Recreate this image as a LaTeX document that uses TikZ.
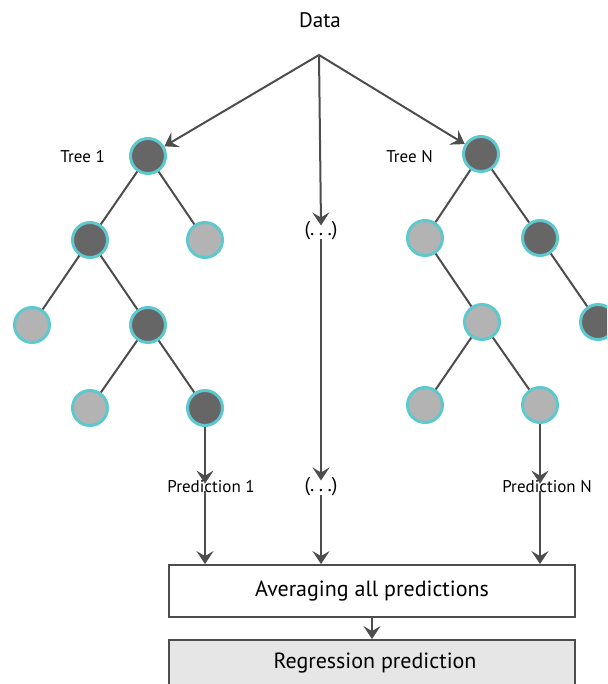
\documentclass[tikz,border=0pt]{standalone}
\usepackage{fontspec}
\setmainfont{PT Sans}
\usetikzlibrary{arrows.meta}
\definecolor{edgegray}{HTML}{4D4D4D}
\definecolor{darkleaf}{HTML}{666666}
\definecolor{lightleaf}{HTML}{B3B3B3}
\definecolor{ringcyan}{HTML}{5EC8CF}
\definecolor{resultfill}{HTML}{E6E6E6}
\newcommand{\spaceddots}{(.\hspace{0.22em}.\hspace{0.22em}.)}
\begin{document}
\begin{tikzpicture}[x=1pt,y=-1pt,
  treenode/.style={circle,draw=ringcyan,line width=3pt,minimum size=35pt,inner sep=0pt},
  dark/.style={treenode,fill=darkleaf},
  light/.style={treenode,fill=lightleaf},
  link/.style={draw=edgegray,line width=2pt},
  flow/.style={draw=edgegray,line width=2pt,-{Stealth[length=13pt,width=17pt,inset=5pt]}},
  label/.style={font=\fontsize{17}{20}\selectfont,inner sep=2pt},
  stagebox/.style={draw=edgegray,line width=1.8pt,minimum width=406pt,minimum height=52pt,
    font=\fontsize{22}{26}\selectfont,inner sep=0pt}
]
\useasboundingbox (0,0) rectangle (607,684);
\clip (0,0) rectangle (607,684);

% input data and fan-out point
\node[font=\fontsize{21}{24}\selectfont] (data) at (320,20) {Data};
\coordinate (apex) at (319,55);

% tree 1
\node[dark]  (a0) at (148,156) {};
\node[label,anchor=east] (t1) at (107,157) {Tree 1};
\node[dark]  (a1) at (90,240) {};
\node[light] (a2) at (205,240) {};
\node[light] (a3) at (32,325) {};
\node[dark]  (a4) at (148,325) {};
\node[light] (a5) at (90,408) {};
\node[dark]  (a6) at (205,408) {};
\draw[link] (a0) -- (a1);
\draw[link] (a0) -- (a2);
\draw[link] (a1) -- (a3);
\draw[link] (a1) -- (a4);
\draw[link] (a4) -- (a5);
\draw[link] (a4) -- (a6);

% tree N
\node[dark]  (b0) at (481,154) {};
\node[label,anchor=east] (tn) at (435,157) {Tree N};
\node[light] (b1) at (425,238) {};
\node[dark]  (b2) at (540,238) {};
\node[light] (b3) at (482,322) {};
\node[dark]  (b4) at (598,322) {};
\node[light] (b5) at (425,405) {};
\node[light] (b6) at (540,405) {};
\draw[link] (b0) -- (b1);
\draw[link] (b0) -- (b2);
\draw[link] (b1) -- (b3);
\draw[link] (b2) -- (b4);
\draw[link] (b3) -- (b5);
\draw[link] (b3) -- (b6);

% middle column
\node[label,font=\fontsize{20}{23}\selectfont] (m1) at (321,231) {\spaceddots};
\node[label,font=\fontsize{20}{23}\selectfont] (m2) at (321,487) {\spaceddots};

% predictions
\node[label] (p1) at (211,487) {Prediction 1};
\node[label] (pn) at (547,487) {Prediction N};

% aggregation stages
\node[stagebox,fill=white] (avg) at (372,591) {Averaging all predictions};
\node[stagebox,fill=resultfill,minimum height=56pt] (reg) at (372,668) {};
\node[font=\fontsize{22}{26}\selectfont] (regtxt) at (375,663) {Regression prediction};

% data flow
\draw[flow] (apex) -- (a0);
\draw[flow] (apex) -- (b0);
\draw[flow] (apex) -- ([yshift=-6pt]m1.north);
\draw[flow] ([yshift=4pt]m1.south) -- ([yshift=-5pt]m2.north);
\draw[flow] (a6) -- ([yshift=-5pt]a6 |- p1.north);
\draw[flow] (b6) -- ([yshift=-5pt]b6 |- pn.north);
\draw[flow] ([yshift=4pt]a6 |- p1.south) -- (a6 |- avg.north);
\draw[flow] ([yshift=4pt]m2.south) -- (m2 |- avg.north);
\draw[flow] ([yshift=4pt]b6 |- pn.south) -- (b6 |- avg.north);
\draw[flow] (avg.south) -- (reg.north);
\end{tikzpicture}
\end{document}
